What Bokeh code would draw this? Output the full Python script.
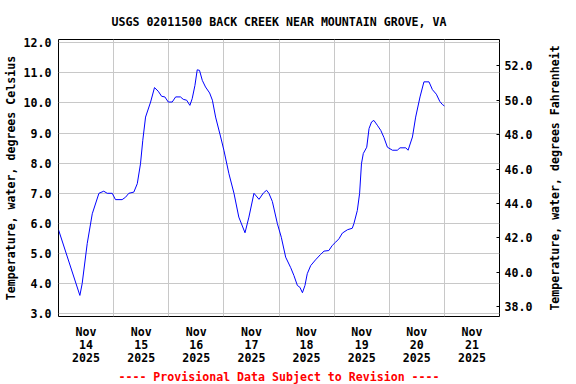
import math
from bokeh.plotting import figure
from bokeh.layouts import row
from bokeh.models import (Range1d, LinearAxis, FixedTicker, Title, PrintfTickFormatter)
from bokeh.embed import file_html
from bokeh.resources import INLINE

# ---- data (hours since Nov 14 2025 00:00, water temperature in deg C) ----
hours = [0, 9.3, 10.3, 12.5, 14.7, 17.6, 19.7, 21.2, 23.4, 24.8, 27.7, 29.2, 30.6, 32.8,
         34.3, 35.7, 36.7, 37.9, 40.1, 41.8, 43.4, 44.9, 46.3, 47.8, 49.5, 51.0, 53.1,
         54.3, 55.8, 57.2, 58.2, 59.4, 60.4, 61.4, 62.6, 64.0, 65.8, 67.0, 68.4, 70.6,
         72.0, 74.2, 76.4, 78.5, 81.2, 82.9, 85.1, 87.3, 89.2, 90.6, 91.6, 93.1, 95.3,
         97.0, 98.9, 101.1, 102.5, 104.0, 105.1, 106.2, 107.3, 108.3, 109.8, 111.9,
         114.1, 115.6, 117.7, 119.2, 120.7, 122.1, 123.6, 125.8, 127.9, 128.6, 130.1,
         131.1, 131.9, 132.7, 134.2, 135.2, 136.3, 137.3, 138.8, 140.3, 141.7, 143.2,
         145.4, 147.5, 148.7, 151.2, 152.2, 154.1, 155.5, 157.4, 159.1, 161.3, 162.8,
         164.5, 166.0, 167.1, 168.0]
temp_c = [5.79, 3.61, 4.0, 5.33, 6.32, 7.0, 7.07, 7.0, 7.0, 6.79, 6.79, 6.87, 7.0, 7.04,
          7.32, 7.98, 8.76, 9.53, 10.03, 10.51, 10.39, 10.22, 10.2, 10.03, 10.03, 10.2,
          10.2, 10.12, 10.09, 9.92, 10.14, 10.58, 11.1, 11.08, 10.75, 10.53, 10.33, 10.09,
          9.53, 8.87, 8.43, 7.65, 7.0, 6.21, 5.69, 6.21, 7.0, 6.80, 7.01, 7.1, 7.0, 6.73,
          5.99, 5.54, 4.88, 4.53, 4.27, 3.94, 3.88, 3.70, 3.94, 4.33, 4.60, 4.79, 4.97,
          5.08, 5.10, 5.27, 5.38, 5.49, 5.68, 5.79, 5.84, 5.99, 6.43, 7.0, 7.98, 8.32,
          8.53, 9.15, 9.37, 9.42, 9.26, 9.09, 8.85, 8.53, 8.43, 8.43, 8.51, 8.51, 8.43,
          8.87, 9.53, 10.2, 10.70, 10.70, 10.44, 10.29, 10.05, 9.95, 9.90]

day_noon_hours = [12, 36, 60, 84, 108, 132, 156, 180]
day_labels = ["Nov\n14\n2025", "Nov\n15\n2025", "Nov\n16\n2025", "Nov\n17\n2025",
              "Nov\n18\n2025", "Nov\n19\n2025", "Nov\n20\n2025", "Nov\n21\n2025"]
midnight_hours = [0, 24, 48, 72, 96, 120, 144, 168, 192]
c_ticks = [3, 4, 5, 6, 7, 8, 9, 10, 11, 12]
f_ticks = [38, 40, 42, 44, 46, 48, 50, 52]

title_text = "USGS 02011500 BACK CREEK NEAR MOUNTAIN GROVE, VA"
footer_text = "---- Provisional Data Subject to Revision ----"
left_label = "Temperature, water, degrees Celsius"
right_label = "Temperature, water, degrees Fahrenheit"

FONT = "DejaVu Sans Mono"
FS = "11.6px"
X_MIN, X_MAX = 0, 192
C_MIN, C_MAX = 2.91, 12.106
F_MIN, F_MAX = 37.417, 53.538

TOP, BOTTOM = 39, 68

p = figure(width=544, height=384, output_backend="svg", toolbar_location=None,
           x_range=Range1d(X_MIN, X_MAX), y_range=Range1d(C_MIN, C_MAX),
           min_border_left=58, min_border_right=45, min_border_top=TOP,
           min_border_bottom=BOTTOM)
p.extra_y_ranges = {"F": Range1d(F_MIN, F_MAX)}

p.line(hours, temp_c, line_color="#0000FF", line_width=1)

p.outline_line_color = "black"
p.outline_line_width = 1
p.background_fill_color = "white"
p.border_fill_color = "white"

# title
p.title.text = title_text
p.title.align = "center"
p.title.text_font = FONT
p.title.text_font_size = FS
p.title.text_font_style = "bold"
p.title.text_color = "black"
p.title.standoff = 21

# x axis
xa = p.xaxis[0]
xa.ticker = FixedTicker(ticks=day_noon_hours)
xa.major_label_overrides = {h: l for h, l in zip(day_noon_hours, day_labels)}
xa.major_tick_in = 0
xa.major_tick_out = 0
xa.minor_tick_in = 0
xa.minor_tick_out = 0
xa.axis_line_color = None
xa.major_label_standoff = 8
xa.major_label_text_font = FONT
xa.major_label_text_font_size = FS
xa.major_label_text_font_style = "bold"
xa.major_label_text_color = "black"
xa.major_label_text_line_height = 0.95
p.xgrid.ticker = FixedTicker(ticks=midnight_hours)
p.xgrid.grid_line_color = "#c8c8c8"

# left axis
ya = p.yaxis[0]
ya.ticker = FixedTicker(ticks=c_ticks)
ya.formatter = PrintfTickFormatter(format="%.1f")
ya.major_tick_in = 0
ya.major_tick_out = 0
ya.minor_tick_in = 0
ya.minor_tick_out = 0
ya.axis_line_color = None
ya.major_label_standoff = 7
ya.major_label_text_font = FONT
ya.major_label_text_font_size = FS
ya.major_label_text_font_style = "bold"
ya.major_label_text_color = "black"
ya.axis_label = left_label
ya.axis_label_standoff = 3
ya.axis_label_text_font = FONT
ya.axis_label_text_font_size = FS
ya.axis_label_text_font_style = "bold"
ya.axis_label_text_color = "black"
p.ygrid.grid_line_color = "#c8c8c8"

# right axis (Fahrenheit)
ra = LinearAxis(y_range_name="F", ticker=FixedTicker(ticks=f_ticks),
                formatter=PrintfTickFormatter(format="%.1f"))
ra.major_tick_in = 3
ra.major_tick_out = 0
ra.minor_tick_in = 0
ra.minor_tick_out = 0
ra.axis_line_color = None
ra.major_tick_line_color = "black"
ra.major_label_standoff = 5
ra.major_label_text_font = FONT
ra.major_label_text_font_size = FS
ra.major_label_text_font_style = "bold"
ra.major_label_text_color = "black"
p.add_layout(ra, "right")

# footer
footer = Title(text=footer_text, align="center", text_font=FONT, text_font_size=FS,
               text_font_style="bold", text_color="red", standoff=-2)
p.add_layout(footer, "below")

# narrow companion figure carrying the Fahrenheit axis title (reads bottom-to-top)
p2 = figure(width=32, height=384, output_backend="svg", toolbar_location=None,
            x_range=Range1d(0, 1), y_range=Range1d(F_MIN, F_MAX),
            x_axis_location=None, y_axis_location="left",
            min_border_left=14, min_border_right=0, min_border_top=TOP,
            min_border_bottom=BOTTOM)
p2.outline_line_color = None
p2.grid.visible = False
p2.background_fill_color = "white"
p2.border_fill_color = "white"
fa = p2.yaxis[0]
fa.ticker = FixedTicker(ticks=[])
fa.major_label_text_font_size = "0px"
fa.major_tick_in = 0
fa.major_tick_out = 0
fa.minor_tick_in = 0
fa.minor_tick_out = 0
fa.major_label_standoff = 0
fa.axis_line_color = None
fa.axis_label = right_label
fa.axis_label_standoff = 0
fa.axis_label_text_font = FONT
fa.axis_label_text_font_size = FS
fa.axis_label_text_font_style = "bold"
fa.axis_label_text_color = "black"

layout = row(p, p2, spacing=0)

open("out.html", "w").write(file_html(layout, INLINE))
